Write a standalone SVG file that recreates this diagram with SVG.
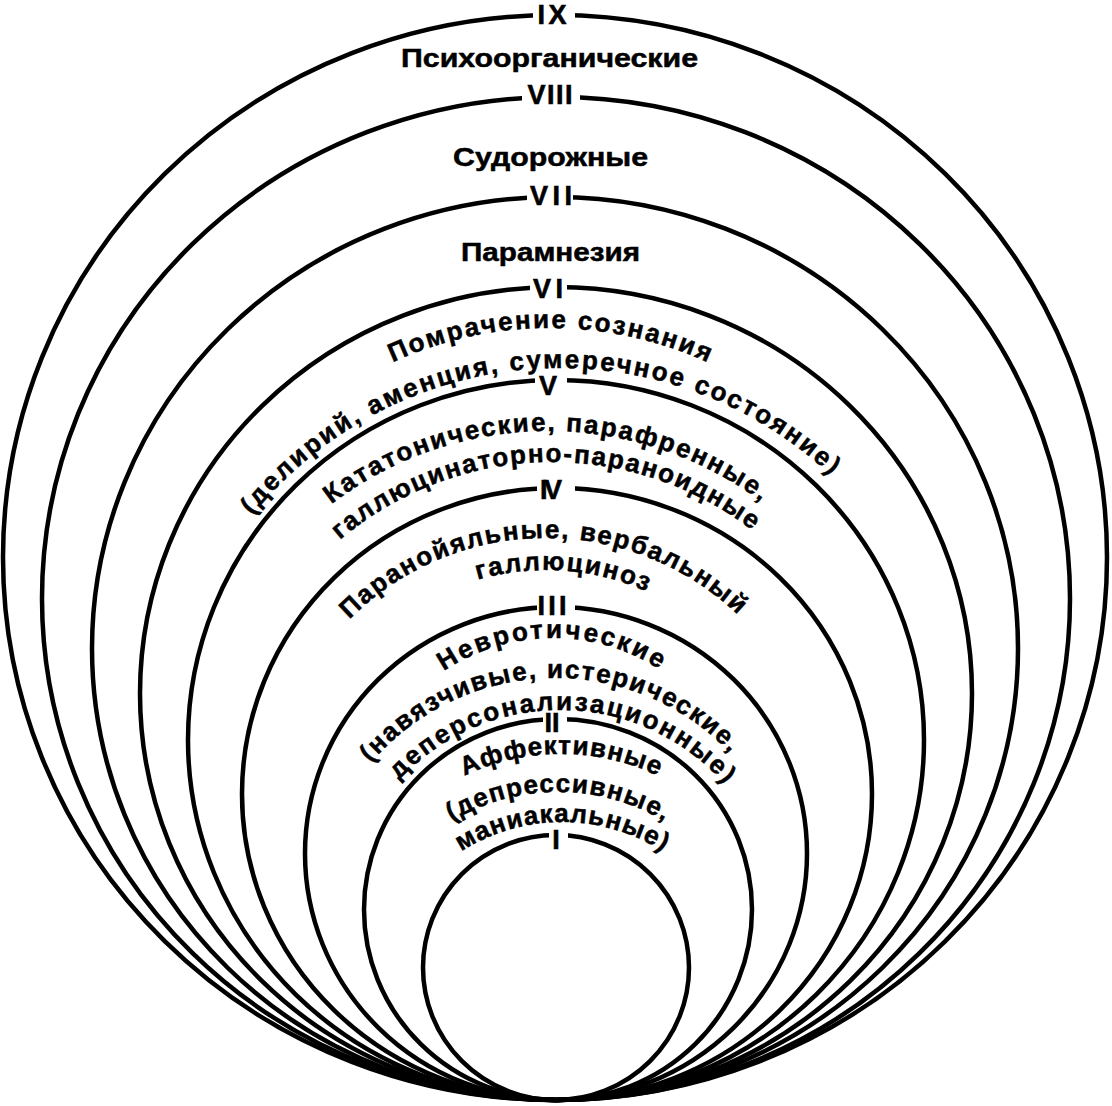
<svg xmlns="http://www.w3.org/2000/svg" xmlns:xlink="http://www.w3.org/1999/xlink" width="1112" height="1106" viewBox="0 0 1112 1106">
<style>
.ring{fill:none;stroke:#000;stroke-width:4.5}
.gap{fill:#fff}
.num{font-family:"Liberation Sans",Arial,sans-serif;font-weight:bold;font-size:27px;text-anchor:middle;fill:#000;stroke:#000;stroke-width:0.6}
.lbl{font-family:"Liberation Sans",Arial,sans-serif;font-weight:bold;font-size:26px;fill:#000;stroke:#000;stroke-width:0.5}
.mid{text-anchor:middle}
</style>
<defs>
<path id="p1" d="M171 707 A379 379 0 0 1 929 707"/>
<path id="p2" d="M165 763 A395 395 0 0 1 955 763"/>
<path id="p3" d="M191 788 A357 357 0 0 1 905 788"/>
<path id="p4" d="M224 790 A328 328 0 0 1 880 790"/>
<path id="p5" d="M268 816 A278 278 0 0 1 824 816"/>
<path id="p6" d="M300 816 A246 246 0 0 1 792 816"/>
<path id="p7" d="M356 835 A197 197 0 0 1 750 835"/>
<path id="p8" d="M313 920 A242 242 0 0 1 797 920"/>
<path id="p9" d="M340 930 A220 220 0 0 1 780 930"/>
<path id="p10" d="M336 979 A225 225 0 0 1 786 979"/>
<path id="p11" d="M350 1000 A208 208 0 0 1 766 1000"/>
<path id="p12" d="M374 1010 A188 188 0 0 1 750 1010"/>
</defs>
<rect width="1112" height="1106" fill="#fff"/>

<g id="ring-IX">
<ellipse class="ring" cx="555" cy="557.5" rx="552" ry="542.5"/>
<rect class="gap" x="533" y="7" width="42" height="16"/>
<text class="num" x="552" y="24" textLength="29" lengthAdjust="spacing">IX</text>
<text class="lbl mid" x="549.5" y="67" textLength="297" lengthAdjust="spacingAndGlyphs">Психоорганические</text>
</g>

<g id="ring-VIII">
<ellipse class="ring" cx="556" cy="598.5" rx="514" ry="501.5"/>
<rect class="gap" x="522" y="89" width="58" height="16"/>
<text class="num" x="550" y="103.5" textLength="45" lengthAdjust="spacing">VIII</text>
<text class="lbl mid" x="550.5" y="166" textLength="195" lengthAdjust="spacingAndGlyphs">Судорожные</text>
</g>

<g id="ring-VII">
<ellipse class="ring" cx="555" cy="648.5" rx="463" ry="451.5"/>
<rect class="gap" x="527" y="189" width="46" height="16"/>
<text class="num" x="551" y="205" textLength="42" lengthAdjust="spacing">VII</text>
<text class="lbl mid" x="550.5" y="261" textLength="179" lengthAdjust="spacingAndGlyphs">Парамнезия</text>
</g>

<g id="ring-VI">
<ellipse class="ring" cx="556" cy="693.5" rx="416" ry="406.5"/>
<rect class="gap" x="530" y="279" width="37" height="16"/>
<text class="num" x="548" y="298" textLength="30" lengthAdjust="spacing">VI</text>
<text class="lbl"><textPath xlink:href="#p1" href="#p1" startOffset="50%" text-anchor="middle" textLength="325" lengthAdjust="spacing">Помрачение сознания</textPath></text>
<text class="lbl"><textPath xlink:href="#p2" href="#p2" startOffset="47.8%" text-anchor="middle" textLength="651" lengthAdjust="spacing">(делирий, аменция, сумеречное состояние)</textPath></text>
</g>

<g id="ring-V">
<ellipse class="ring" cx="556" cy="740" rx="368" ry="360"/>
<rect class="gap" x="535" y="372" width="32" height="16"/>
<text class="num" x="548" y="395">V</text>
<text class="lbl"><textPath xlink:href="#p3" href="#p3" startOffset="49.8%" text-anchor="middle" textLength="461" lengthAdjust="spacing">Кататонические, парафренные,</textPath></text>
<text class="lbl"><textPath xlink:href="#p4" href="#p4" startOffset="49.25%" text-anchor="middle" textLength="446" lengthAdjust="spacing">галлюцинаторно-параноидные</textPath></text>
</g>

<g id="ring-IV">
<ellipse class="ring" cx="557" cy="794" rx="315" ry="306"/>
<rect class="gap" x="537" y="480" width="38" height="16"/>
<text class="num" x="551" y="499" textLength="22" lengthAdjust="spacing">IV</text>
<text class="lbl"><textPath xlink:href="#p5" href="#p5" startOffset="49.6%" text-anchor="middle" textLength="430" lengthAdjust="spacing">Паранойяльные, вербальный</textPath></text>
<text class="lbl"><textPath xlink:href="#p6" href="#p6" startOffset="52.2%" text-anchor="middle" textLength="173" lengthAdjust="spacing">галлюциноз</textPath></text>
</g>

<g id="ring-III">
<ellipse class="ring" cx="556" cy="853.5" rx="251" ry="246.5"/>
<rect class="gap" x="537" y="599" width="38" height="16"/>
<text class="num" x="552" y="615" textLength="29" lengthAdjust="spacing">III</text>
<text class="lbl"><textPath xlink:href="#p7" href="#p7" startOffset="49.7%" text-anchor="middle" textLength="228" lengthAdjust="spacing">Невротические</textPath></text>
<text class="lbl"><textPath xlink:href="#p8" href="#p8" startOffset="49.1%" text-anchor="middle" textLength="405" lengthAdjust="spacing">(навязчивые, истерические,</textPath></text>
<text class="lbl"><textPath xlink:href="#p9" href="#p9" startOffset="50.4%" text-anchor="middle" textLength="367" lengthAdjust="spacing">деперсонализационные)</textPath></text>
</g>

<g id="ring-II">
<ellipse class="ring" cx="558" cy="909.5" rx="194" ry="190.5"/>
<rect class="gap" x="543" y="711" width="24" height="16"/>
<text class="num" x="552" y="732" textLength="15" lengthAdjust="spacing">II</text>
<text class="lbl"><textPath xlink:href="#p10" href="#p10" startOffset="50%" text-anchor="middle" textLength="200" lengthAdjust="spacing">Аффективные</textPath></text>
<text class="lbl"><textPath xlink:href="#p11" href="#p11" startOffset="50%" text-anchor="middle" textLength="223" lengthAdjust="spacing">(депрессивные,</textPath></text>
<text class="lbl"><textPath xlink:href="#p12" href="#p12" startOffset="50%" text-anchor="middle" textLength="213" lengthAdjust="spacing">маниакальные)</textPath></text>
</g>

<g id="ring-I">
<ellipse class="ring" cx="556" cy="967.5" rx="133" ry="132.5"/>
<rect class="gap" x="549" y="827" width="19" height="16"/>
<text class="num" x="556" y="849">I</text>
</g>
</svg>
